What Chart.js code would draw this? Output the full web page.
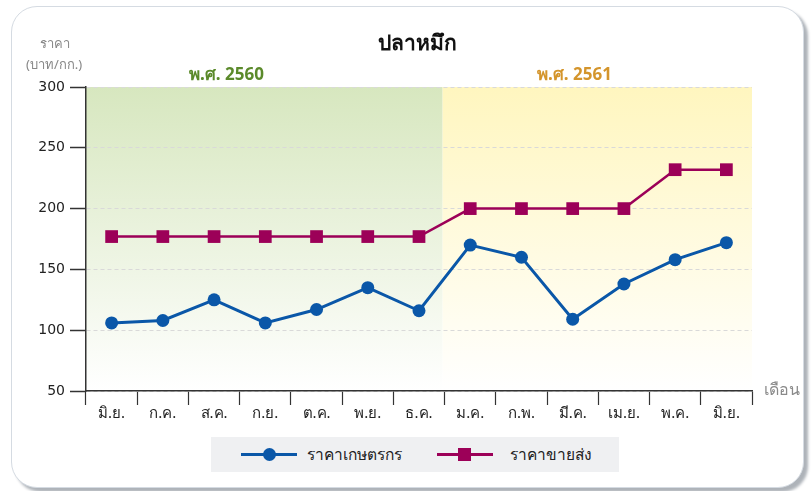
<!DOCTYPE html>
<html>
<head>
<meta charset="utf-8">
<script src="https://cdn.jsdelivr.net/npm/chart.js@4.4.1/dist/chart.umd.min.js"></script>
<style>
  body { margin: 0; width: 812px; height: 491px; background: #fff; overflow: hidden; position: relative;
         font-family: "Noto Sans", "DejaVu Sans", sans-serif; }
  .card { position: absolute; left: 11px; top: 6px; width: 791px; height: 480px; border: 1px solid #d5dbe2;
          border-radius: 26px; background: #fff; box-shadow: 4px 4px 3px #aeb3b9; }
  .txt { position: absolute; white-space: nowrap; }
  #c { position: absolute; left: 0; top: 0; }
  .legend { position: absolute; left: 211px; top: 437px; width: 408px; height: 35px; background: #eff0f2; }
  .li { position: absolute; top: 0; height: 35px; line-height: 35px; font-size: 15.5px; color: #222; }
  .mk { position: absolute; top: 16px; height: 3px; width: 56px; }
  .dot { position: absolute; left: 22px; top: -5px; width: 13px; height: 13px; border-radius: 50%; }
  .sq { position: absolute; left: 21px; top: -5px; width: 13px; height: 13px; }
</style>
</head>
<body>
<div class="card"></div>
<canvas id="c" width="812" height="491"></canvas>
<div class="txt" style="left:0;width:834px;top:26px;text-align:center;font-size:21px;font-weight:bold;color:#111">ปลาหมึก</div>
<div class="txt" style="left:40px;top:33px;font-size:13px;color:#888">ราคา</div>
<div class="txt" style="left:26px;top:54px;font-size:13px;color:#888">(บาท/กก.)</div>
<div class="txt" id="y0" style="left:189px;top:60px;font-size:17px;font-weight:bold;color:#5b8a2b"></div>
<div class="txt" id="y1" style="left:537px;top:60px;font-size:17px;font-weight:bold;color:#d4952c"></div>
<div class="txt" style="left:764px;top:377px;font-size:16px;color:#8a8a8a">เดือน</div>
<div class="legend">
  <div class="li" style="left:30px"><span class="mk" style="background:#0a57a8"><span class="dot" style="background:#0a57a8"></span></span><span id="l0" style="margin-left:66px"></span></div>
  <div class="li" style="left:226px"><span class="mk" style="background:#9c0058"><span class="sq" style="background:#9c0058"></span></span><span id="l1" style="margin-left:73px"></span></div>
</div>
<script>
const months = ['มิ.ย.', 'ก.ค.', 'ส.ค.', 'ก.ย.', 'ต.ค.', 'พ.ย.', 'ธ.ค.', 'ม.ค.', 'ก.พ.', 'มี.ค.', 'เม.ย.', 'พ.ค.', 'มิ.ย.'];
const farmPrice = [106, 108, 125, 106, 117, 135, 116, 170, 160, 109, 138, 158, 172];
const wholesalePrice = [177, 177, 177, 177, 177, 177, 177, 200, 200, 200, 200, 232, 232];
const seriesNames = ['ราคาเกษตรกร', 'ราคาขายส่ง'];
const yearLabels = ['พ.ศ. 2560', 'พ.ศ. 2561'];
const monthsIn2560 = 7;

document.getElementById('y0').textContent = yearLabels[0];
document.getElementById('y1').textContent = yearLabels[1];
document.getElementById('l0').textContent = seriesNames[0];
document.getElementById('l1').textContent = seriesNames[1];

// green / yellow period backgrounds
const bands = {
  id: 'bands',
  beforeDraw(chart) {
    const { ctx, chartArea: a, scales: { x } } = chart;
    const split = (x.getPixelForValue(monthsIn2560 - 1) + x.getPixelForValue(monthsIn2560)) / 2 - 2;
    let g = ctx.createLinearGradient(0, a.top, 0, a.bottom);
    g.addColorStop(0, '#d7e7bf');
    g.addColorStop(1, '#ffffff');
    ctx.save();
    ctx.fillStyle = g;
    ctx.fillRect(a.left, a.top, split - a.left, a.bottom - a.top);
    g = ctx.createLinearGradient(0, a.top, 0, a.bottom);
    g.addColorStop(0, '#fff6bf');
    g.addColorStop(1, '#ffffff');
    ctx.fillStyle = g;
    ctx.fillRect(split, a.top, a.right - split, a.bottom - a.top);
    ctx.restore();
  }
};

new Chart(document.getElementById('c'), {
  type: 'line',
  data: {
    labels: months,
    datasets: [{
      label: seriesNames[0],
      data: farmPrice,
      borderColor: '#0a57a8',
      backgroundColor: '#0a57a8',
      borderWidth: 3,
      pointRadius: 6.5,
      pointBorderWidth: 0,
      tension: 0
    }, {
      label: seriesNames[1],
      data: wholesalePrice,
      borderColor: '#9c0058',
      backgroundColor: '#9c0058',
      borderWidth: 2.5,
      pointStyle: 'rect',
      pointRadius: 9,
      pointBorderWidth: 0,
      tension: 0
    }]
  },
  options: {
    responsive: false,
    animation: false,
    devicePixelRatio: 1,
    layout: { padding: { top: 87, right: 60, left: 0, bottom: 0 } },
    plugins: { legend: { display: false }, title: { display: false }, tooltip: { enabled: false } },
    scales: {
      x: {
        offset: true,
        afterFit(s) { s.height = 100; },
        grid: { drawOnChartArea: false, offset: true, tickLength: 14, tickColor: '#333', tickWidth: 1.2 },
        border: { color: '#333', width: 1.5 },
        ticks: { color: '#222', font: { size: 15, family: 'Noto Sans' }, padding: 0, maxRotation: 0, autoSkip: false }
      },
      y: {
        min: 50, max: 300,
        afterFit(s) { s.width = 86; },
        grid: { color: '#d9d9d9', lineWidth: 1, tickColor: '#333', tickLength: 16, tickWidth: 1.5 },
        border: { color: '#333', width: 1.5, dash: [4, 3], dashOffset: 0 },
        ticks: { stepSize: 50, color: '#222', font: { size: 14, family: 'DejaVu Sans' }, padding: 5 }
      }
    }
  },
  plugins: [bands]
});
</script>
</body>
</html>
